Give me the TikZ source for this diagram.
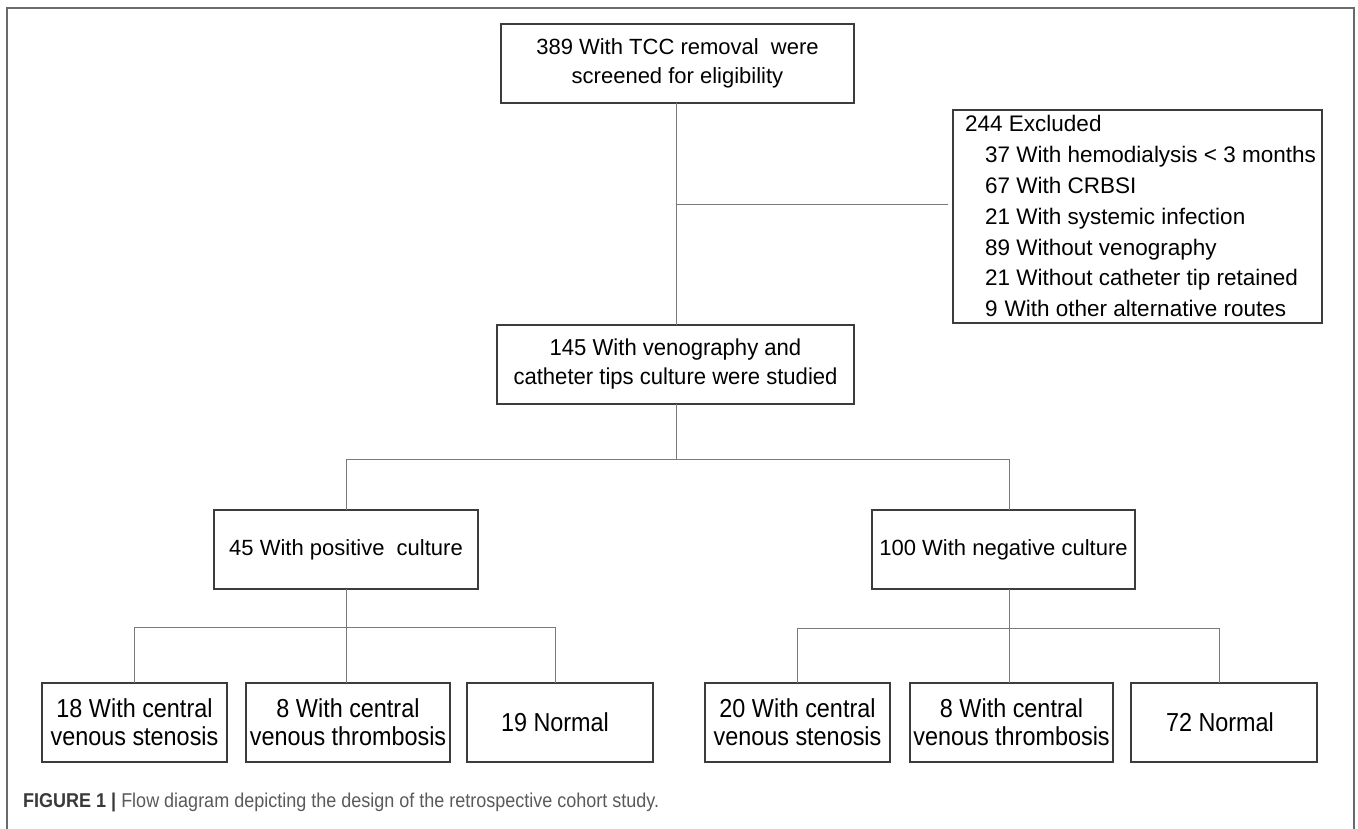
\documentclass[tikz,border=0pt]{standalone}
\usepackage{fontspec}
\setmainfont{Liberation Sans}
\newfontfamily\fmid[FakeStretch=0.96]{Liberation Sans}
\newfontfamily\fbot[FakeStretch=0.9]{Liberation Sans}
\newfontfamily\fcap[FakeStretch=0.9]{Liberation Sans}
\definecolor{boxc}{HTML}{3C3C3C}
\definecolor{connc}{HTML}{7A7A7A}
\definecolor{framec}{HTML}{6A6A6A}
\definecolor{capdark}{HTML}{3A3A3A}
\definecolor{capgray}{HTML}{5A5A5A}
\tikzset{
  box/.style={draw=boxc, line width=1.3pt, inner sep=0pt, outer sep=0pt, align=center, minimum height=79pt},
  conn/.style={draw=connc, line width=1pt},
  topfont/.style={font=\fontsize{22}{29}\selectfont},
  midfont/.style={font=\fmid\fontsize{23}{29}\selectfont},
  botfont/.style={font=\fbot\fontsize{26}{28}\selectfont},
  excfont/.style={font=\fontsize{22.5}{30}\selectfont},
  excline/.style={excfont, anchor=base west, inner sep=0pt},
}
\begin{document}
\begin{tikzpicture}[x=1pt,y=-1pt]
\useasboundingbox (0,0) rectangle (1358,829);
\draw[draw=framec, line width=1.5pt] (7,829) -- (7,8) -- (1354,8) -- (1354,829);

% main boxes
\node[box, topfont, minimum width=353pt] (top) at (677.5,63.5) {389 With TCC removal~ were\\screened for eligibility};
\node[box, midfont, minimum width=357pt] (mid) at (675.5,364.5) {145 With venography and\\catheter tips culture were studied};
\node[box, topfont, minimum width=264pt] (pos) at (346,549.5) {45 With positive~ culture};
\node[box, topfont, minimum width=263pt] (neg) at (1003.5,549.5) {100 With negative culture};

% excluded box
\node[box, minimum width=369pt, minimum height=213pt] (excl) at (1137.5,216.5) {};
\node[excline] (ex0) at (965,132) {244 Excluded};
\node[excline] (ex1) at (985,162.8) {37 With hemodialysis < 3 months};
\node[excline] (ex2) at (985,193.6) {67 With CRBSI};
\node[excline] (ex3) at (985,224.4) {21 With systemic infection};
\node[excline] (ex4) at (985,255.2) {89 Without venography};
\node[excline] (ex5) at (985,286) {21 Without catheter tip retained};
\node[excline] (ex6) at (985,316.8) {9\hspace{7pt}With other alternative routes};

% bottom boxes
\node[box, botfont, minimum width=185pt] (b18) at (134.5,722.5) {18 With central\\venous stenosis};
\node[box, botfont, minimum width=204pt] (b8a) at (348,722.5) {8 With central\\venous thrombosis};
\node[box, botfont, minimum width=186pt] (b19) at (560,722.5) {\hspace*{-10pt}19 Normal};
\node[box, botfont, minimum width=185pt] (b20) at (797.5,722.5) {20 With central\\venous stenosis};
\node[box, botfont, minimum width=203pt] (b8b) at (1011.5,722.5) {8 With central\\venous thrombosis};
\node[box, botfont, minimum width=186pt] (b72) at (1224,722.5) {\hspace*{-8pt}72 Normal};

% junction coordinates
\coordinate (j1) at (676,205);
\coordinate (exin) at (948,205);
\coordinate (h1) at (676,459);
\coordinate (h2) at (346,627);
\coordinate (h3) at (1009,628);

% connectors
\draw[conn] (top.south -| j1) -- (mid.north -| j1);
\draw[conn] (j1) -- (exin);
\draw[conn] (mid.south -| h1) -- (h1);
\draw[conn] (pos.north) -- (pos.north |- h1) -| (neg.north -| h3);
\draw[conn] (pos.south) -- (h2);
\draw[conn] (b18.north) -- (b18.north |- h2) -| (b19.north -| 555,0);
\draw[conn] (h2) -- (b8a.north -| h2);
\draw[conn] (neg.south -| h3) -- (h3);
\draw[conn] (b20.north) -- (b20.north |- h3) -| (b72.north -| 1219,0);
\draw[conn] (h3) -- (b8b.north -| h3);

% caption
\node[anchor=base west, inner sep=0pt, font=\fcap\fontsize{20}{22}\selectfont] (cap) at (23,807)
  {\textcolor{capdark}{\bfseries FIGURE 1 |} \textcolor{capgray}{Flow diagram depicting the design of the retrospective cohort study.}};
\end{tikzpicture}
\end{document}
